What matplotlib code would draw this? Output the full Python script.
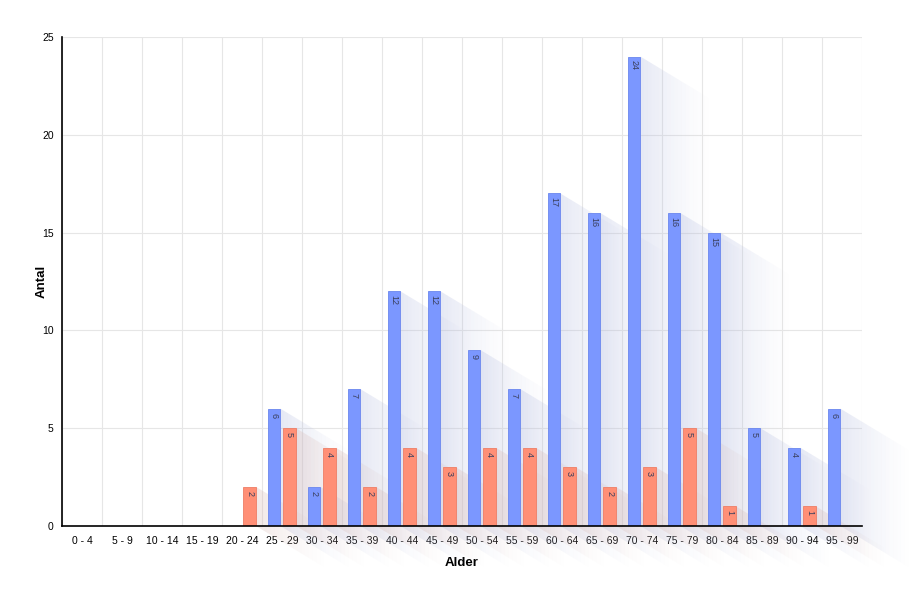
import numpy as np
import matplotlib.pyplot as plt
from matplotlib.patches import Polygon

plt.rcParams['font.family'] = ['Liberation Sans', 'DejaVu Sans']

aldre = ["0 - 4", "5 - 9", "10 - 14", "15 - 19", "20 - 24", "25 - 29", "30 - 34",
         "35 - 39", "40 - 44", "45 - 49", "50 - 54", "55 - 59", "60 - 64", "65 - 69",
         "70 - 74", "75 - 79", "80 - 84", "85 - 89", "90 - 94", "95 - 99"]
blaa = [0, 0, 0, 0, 0, 6, 2, 7, 12, 12, 9, 7, 17, 16, 24, 16, 15, 5, 4, 6]
roed = [0, 0, 0, 0, 2, 5, 4, 2, 4, 3, 4, 4, 3, 2, 3, 5, 1, 0, 1, 0]

fig = plt.figure(figsize=(9.15, 6.01), dpi=100)
ax = fig.add_axes([62/915, 1 - 526/601, 800/915, 489/601])

x = np.arange(len(aldre))
w = 0.32
sdx, sdy = 1.7, 2.1   # skygge-forskydning i dataenheder


def skygge(x1, top, farve):
    n = 18
    for k in range(n):
        f0 = k / n
        f1 = (k + 1) / n
        pts = [(x1 + sdx*f0, top - sdy*f0), (x1 + sdx*f1, top - sdy*f1),
               (x1 + sdx*f1, -sdy*f1), (x1 + sdx*f0, -sdy*f0)]
        ax.add_patch(Polygon(pts, closed=True, facecolor=farve, edgecolor='none',
                             alpha=0.32*(1 - f0)**1.3, zorder=1, clip_on=False))


for xi, v in zip(x, blaa):
    if v > 0:
        skygge(xi - 0.2 + w/2, v, '#b4bce0')
for xi, v in zip(x, roed):
    if v > 0:
        skygge(xi + 0.19 + w/2, v, '#d9bab6')

b1 = ax.bar(x - 0.2, blaa, w, color='#7b97ff', edgecolor='#6a86ee', linewidth=0.6, zorder=3)
b2 = ax.bar(x + 0.19, roed, w, color='#ff8f76', edgecolor='#ee7e66', linewidth=0.6, zorder=3)

for bars, vals in ((b1, blaa), (b2, roed)):
    for r, v in zip(bars, vals):
        if v > 0:
            ax.text(r.get_x() + r.get_width()/2, v - 0.2, str(v), rotation=-90,
                    ha='center', va='top', fontsize=6.5, color='#3a3f5c', zorder=4)

ax.set_xlim(-0.5, 19.5)
ax.set_ylim(0, 25)
ax.set_yticks([0, 5, 10, 15, 20, 25])
ax.set_xticks(x)
ax.set_xticklabels(aldre, fontsize=7.5)
ax.tick_params(axis='y', labelsize=7.5, length=0, pad=6)
ax.tick_params(axis='x', length=0, pad=7)
ax.set_xticks(np.arange(-0.5, 20, 1), minor=True)
ax.tick_params(axis='x', which='minor', length=0)
ax.grid(True, axis='x', which='minor', color='#e6e6e6', linewidth=0.8, zorder=0)
ax.grid(True, axis='y', which='major', color='#e6e6e6', linewidth=0.8, zorder=0)
ax.set_axisbelow(True)

for s in ('top', 'right'):
    ax.spines[s].set_visible(False)
ax.spines['left'].set_linewidth(1.2)
ax.spines['bottom'].set_linewidth(1.2)
ax.spines['bottom'].set_zorder(5)

ax.set_xlabel("Alder", fontsize=9.5, fontweight='bold')
ax.set_ylabel("Antal", fontsize=9.5, fontweight='bold')
ax.xaxis.set_label_coords(0.5, -0.063)
ax.yaxis.set_label_coords(-0.018, 0.5)

fig.savefig("out.png", dpi=100)
